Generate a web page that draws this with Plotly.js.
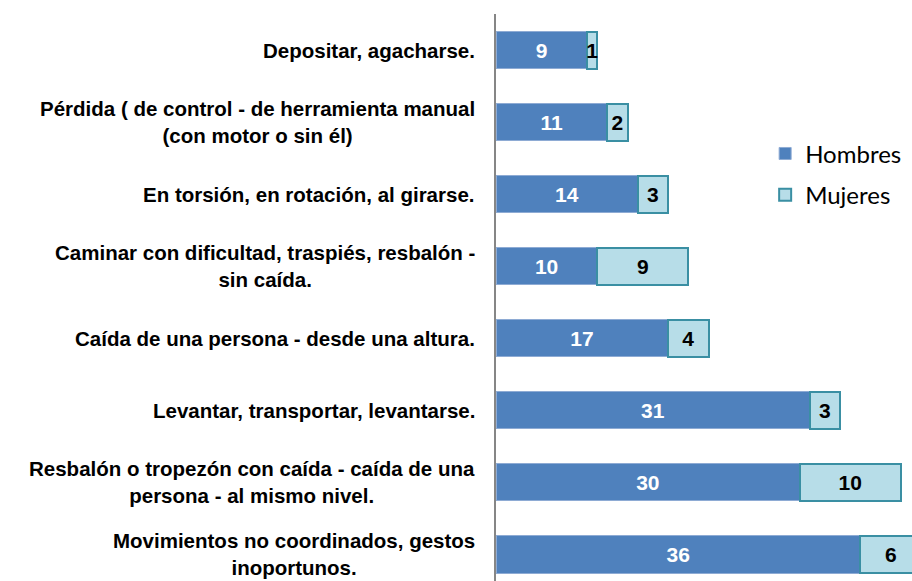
<!DOCTYPE html>
<html>
<head>
<meta charset="utf-8">
<script src="https://cdn.plot.ly/plotly-3.0.1.min.js"></script>
<style>
  html, body { margin: 0; padding: 0; background: #fff; }
  #chart { width: 912px; height: 581px; }
</style>
</head>
<body>
<div id="chart"></div>
<script>
// categories, top to bottom
var categories = [
    "Depositar, agacharse.",
    "Pérdida ( de control - de herramienta manual<br>(con motor o sin él)",
    "En torsión, en rotación, al girarse.",
    "Caminar con dificultad, traspiés, resbalón -<br>sin caída.",
    "Caída de una persona - desde una altura.",
    "Levantar, transportar, levantarse.",
    "Resbalón o tropezón con caída - caída de una<br>persona - al mismo nivel.",
    "Movimientos no coordinados, gestos<br>inoportunos."
];
var hombres = [9, 11, 14, 10, 17, 31, 30, 36];
var mujeres = [1, 2, 3, 9, 4, 3, 10, 6];

var idx = categories.map(function (c, i) { return i; });

var trace1 = {
    type: "bar",
    orientation: "h",
    name: "Hombres",
    legendgroup: "h",
    x: hombres,
    y: idx,
    text: hombres.map(String),
    textposition: "inside",
    insidetextanchor: "middle",
    constraintext: "none",
    textangle: 0,
    textfont: {family: "Liberation Sans, Arial, sans-serif", size: 21, color: "#ffffff", weight: "bold"},
    marker: {color: "#4F81BD", line: {color: "#8EABD4", width: 1}},
    hoverinfo: "none"
};

var trace2 = {
    type: "bar",
    orientation: "h",
    name: "Mujeres",
    legendgroup: "m",
    x: mujeres,
    y: idx,
    text: mujeres.map(String),
    textposition: "inside",
    insidetextanchor: "middle",
    constraintext: "none",
    textangle: 0,
    textfont: {family: "Liberation Sans, Arial, sans-serif", size: 21, color: "#000000", weight: "bold"},
    marker: {color: "#B7DDE8", line: {color: "#3A8FA3", width: 2}},
    hoverinfo: "none"
};

// category labels as centered annotations left of the axis
var labels = categories.map(function (c, i) {
    return {
        xref: "paper", yref: "y",
        x: 0, y: i,
        xshift: -19,
        xanchor: "right", yanchor: "middle",
        align: "center",
        showarrow: false,
        text: "<b>" + c + "</b>",
        font: {family: "Liberation Sans, Arial, sans-serif", size: 20.5, color: "#000000"}
    };
});

var layout = {
    width: 912,
    height: 581,
    margin: {l: 496, r: 0, t: 14, b: 0, pad: 0},
    paper_bgcolor: "#ffffff",
    plot_bgcolor: "#ffffff",
    barmode: "stack",
    bargap: 0.486,
    showlegend: true,
    legend: {
        x: 0.647, y: 0.793,
        xanchor: "left", yanchor: "top",
        traceorder: "grouped",
        tracegroupgap: 7,
        font: {family: "Lato, Carlito, sans-serif", size: 24, color: "#000000"},
        itemwidth: 30,
        bgcolor: "rgba(0,0,0,0)"
    },
    xaxis: {
        range: [0, 41.1],
        showgrid: false,
        zeroline: false,
        showline: false,
        showticklabels: false,
        fixedrange: true
    },
    yaxis: {
        range: [7.368, -0.5],
        showgrid: false,
        zeroline: false,
        showline: true,
        linecolor: "#868686",
        linewidth: 2,
        showticklabels: false,
        ticks: "",
        fixedrange: true
    },
    annotations: labels
};

Plotly.newPlot("chart", [trace1, trace2], layout, {displayModeBar: false, staticPlot: true});
</script>
</body>
</html>
